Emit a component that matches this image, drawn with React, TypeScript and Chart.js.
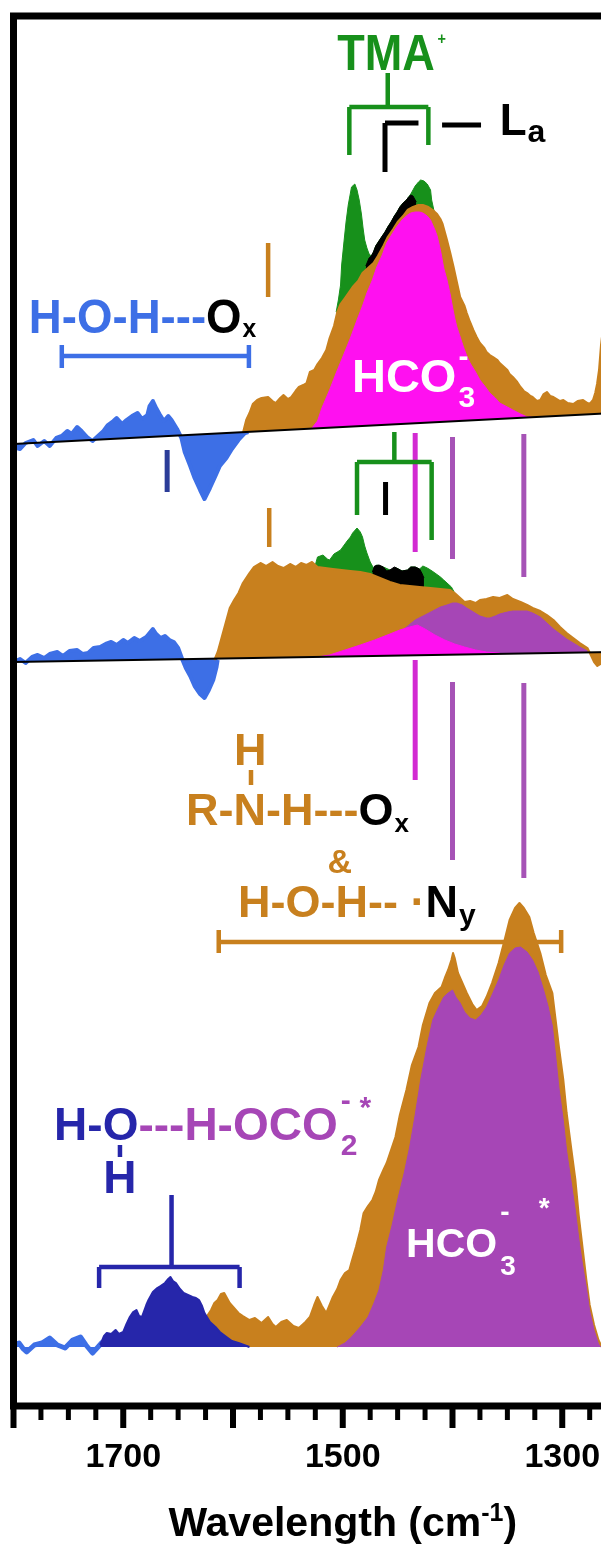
import React, { useEffect, useRef } from 'react';
import { Chart, registerables } from 'chart.js';

Chart.register(...registerables);

type P = [number, number];

// ---------- axis ----------
const xTickLabels = [1700, 1500, 1300];
const xMin = 1200;
const xMax = 1800;

// ---------- baselines ----------
const topBaseline: P[] = [[1800, 962], [1200, 996]];
const midBaseline: P[] = [[1800, 744], [1200, 755]];
const bottomBaselineValue = 59;

// ---------- top spectrum ----------
const topBlue: P[] = [[1800,959],[1794,957],[1789,963],[1782,966],[1778,960],[1772,965],[1767,960],[1761,968],[1756,970],[1751,975],[1747,972],[1742,979],[1738,975],[1733,969],[1728,965],[1723,970],[1718,975],[1714,981],[1709,985],[1706,988],[1701,982],[1697,986],[1692,990],[1687,993],[1683,987],[1678,991],[1676,1000],[1673,1005],[1670,998],[1667,992],[1663,985],[1659,990],[1656,986],[1651,977],[1647,968],[1644,954],[1639,940],[1635,928],[1630,916],[1626,907],[1621,918],[1616,930],[1612,940],[1606,948],[1601,957],[1595,966],[1589,973],[1586,974]];
const topOrange: P[] = [[1591,973],[1588,986],[1585,993],[1582,1002],[1578,1006],[1574,1008],[1568,1009],[1564,1005],[1561,1003],[1557,1008],[1554,1011],[1550,1007],[1547,1009],[1543,1015],[1540,1019],[1536,1021],[1533,1023],[1530,1034],[1526,1036],[1523,1042],[1519,1048],[1515,1056],[1512,1068],[1508,1080],[1505,1094],[1502,1102],[1498,1108],[1491,1119],[1486,1125],[1482,1133],[1477,1138],[1472,1143],[1468,1150],[1463,1160],[1459,1169],[1454,1177],[1450,1184],[1445,1190],[1441,1196],[1436,1199],[1431,1201],[1427,1201],[1422,1199],[1418,1196],[1414,1192],[1411,1187],[1409,1182],[1407,1174],[1405,1166],[1402,1153],[1399,1139],[1396,1124],[1393,1109],[1389,1100],[1387,1093],[1384,1084],[1381,1076],[1378,1069],[1375,1063],[1371,1058],[1369,1054],[1366,1051],[1363,1049],[1359,1046],[1357,1043],[1353,1039],[1350,1036],[1348,1032],[1345,1029],[1341,1024],[1338,1019],[1335,1015],[1332,1013],[1329,1010],[1327,1009],[1323,1005],[1320,1006],[1317,1012],[1314,1014],[1311,1010],[1308,1009],[1305,1007],[1302,1005],[1299,1006],[1295,1003],[1290,1002],[1286,1005],[1281,1006],[1277,1003],[1275,1002],[1272,1006],[1270,1013],[1268.3,1022],[1266.5,1036],[1264.7,1061],[1262,1086],[1258,1106]];
const topMagenta: P[] = [[1528,978],[1523,985],[1519,998],[1512,1016],[1506,1033],[1500,1049],[1493,1068],[1487,1086],[1482,1100],[1478,1113],[1473,1126],[1469,1139],[1464,1151],[1460,1163],[1455,1172],[1451,1179],[1446,1186],[1441,1191],[1438,1193],[1434,1194],[1430,1194],[1427,1193],[1423,1190],[1420,1186],[1418,1181],[1416,1176],[1414,1170],[1411,1156],[1408,1138],[1405,1126],[1402,1111],[1400,1099],[1398,1088],[1396,1079],[1393,1069],[1390,1059],[1387,1050],[1384,1043],[1379,1034],[1375,1026],[1370,1019],[1366,1013],[1361,1008],[1357,1003],[1350,999],[1345,996],[1338,992],[1332,989],[1328,989]];
const topGreen: P[] = [[1506,1094],[1504,1106],[1502,1121],[1501,1141],[1499,1163],[1497,1184],[1495,1201],[1493,1213],[1492,1219],[1489,1222],[1487,1216],[1485,1206],[1483,1192],[1481.5,1178],[1480,1166],[1478,1158],[1476,1152],[1474,1150],[1472,1154],[1470,1160],[1467,1165],[1464,1170],[1461.5,1174],[1459,1179],[1456,1184],[1453,1190],[1450.5,1194],[1448,1199],[1445,1203],[1442,1206],[1440,1209],[1438,1212],[1436,1216],[1434,1220],[1431,1224],[1429,1226],[1426,1225],[1423,1222],[1420,1216],[1419,1206],[1417,1196],[1415,1190]];
const topBlack: P[] = [[1479,1140],[1476,1148],[1474,1150],[1472,1154],[1470,1160],[1467,1165],[1464,1170],[1461.5,1174],[1459,1179],[1456,1184],[1453,1190],[1450.5,1194],[1448,1199],[1445,1203],[1442,1206],[1440,1209],[1438,1211],[1436,1210],[1433,1204]];

// ---------- middle spectrum ----------
const midBlue: P[] = [[1800,744],[1794,747],[1789,743],[1783,749],[1778,751],[1772,748],[1767,752],[1760,754],[1755,750],[1749,755],[1742,756],[1737,752],[1732,753],[1727,758],[1721,759],[1716,762],[1711,764],[1706,761],[1700,766],[1696,763],[1690,768],[1685,765],[1679,769],[1676,773],[1673,777],[1670,772],[1666,768],[1662,770],[1658,766],[1654,764],[1650,758],[1646,746],[1643,738],[1639,730],[1635,720],[1630,712],[1626,708],[1622,716],[1618,726],[1615,739],[1614,746]];
const midOrange: P[] = [[1617,746],[1614,754],[1610,770],[1606,786],[1603,798],[1599,806],[1595,813],[1591,823],[1585,833],[1581,839],[1575,843],[1570,840],[1564,844],[1559,840],[1554,838],[1548,842],[1543,839],[1538,843],[1533,841],[1528,844],[1523,839],[1516,838],[1509,837],[1501,836],[1493,835],[1484,834],[1475,832],[1466,828],[1457,824],[1448,821],[1439,820],[1430,819],[1420,818],[1411,817],[1402,816],[1398,813],[1393,808],[1389,804],[1384,805],[1379,803],[1375,806],[1369,807],[1363,809],[1357,808],[1350,811],[1345,807],[1338,804],[1332,801],[1327,798],[1320,795],[1314,791],[1308,786],[1302,779],[1296,773],[1290,768],[1284,763],[1277,758],[1274,751],[1271,744],[1268,740],[1265,742],[1260,746]];
const midMagenta: P[] = [[1523,749],[1512,751],[1498,756],[1484,761],[1471,766],[1457,772],[1448,776],[1439,779],[1432,781],[1425,777],[1416,771],[1407,766],[1398,762],[1389,759],[1379,756],[1369,754],[1357,753]];
const midPurple: P[] = [[1475,752],[1466,756],[1457,764],[1452,769],[1443,778],[1434,786],[1425,791],[1418,795],[1411,799],[1405,801],[1400,803],[1396,803],[1391,801],[1387,798],[1381,794],[1375,790],[1369,788],[1366,788],[1361,790],[1357,792],[1350,794],[1345,795],[1338,795],[1332,795],[1327,793],[1320,789],[1314,783],[1308,777],[1302,772],[1296,767],[1290,763],[1284,759],[1277,755]];
const midGreen: P[] = [[1525,841],[1523,849],[1518,851],[1514,847],[1512,846],[1508,852],[1505,854],[1502,856],[1500,859],[1496,865],[1493,869],[1491,873],[1487,878],[1484,874],[1482,869],[1480,860],[1478,853],[1475,844],[1472,838],[1469,841],[1463,839],[1457,836],[1451,838],[1446,835],[1441,836],[1438,839],[1434,839],[1430,837],[1427,840],[1423,838],[1420,836],[1416,833],[1411,829],[1408,826],[1405,823],[1401,819],[1398,813]];
const midBlack: P[] = [[1473,834],[1471,840],[1467,841],[1463,839],[1460,835],[1457,836],[1453,839],[1451,838],[1446,835],[1441,836],[1438,839],[1434,839],[1430,837],[1428,833],[1426,828]];

// ---------- bottom spectrum ----------
const botLightBlue: P[] = [[1800,61],[1795,63],[1791,57],[1788,54],[1781,61],[1774,63],[1767,68],[1760,61],[1753,58],[1746,66],[1739,69],[1734,61],[1728,53],[1723,59],[1719,64]];
const botDarkBlue: P[] = [[1721,61],[1717.5,70],[1715,73],[1711,72],[1707,76],[1704,72],[1700,74],[1697,82],[1694,89],[1691,94],[1688,96],[1685.6,90],[1683,89],[1679,101],[1677,106],[1673,114],[1669,118],[1666,120],[1662,123],[1659,127],[1657,129],[1654.7,125],[1652,123],[1648.3,117],[1645,113],[1641,111],[1637,109],[1633.7,108],[1631,106],[1628.2,100],[1626,93],[1621,84],[1616,79],[1612,74],[1606,69],[1601,65],[1595,63],[1590,61],[1585,59]];
const botOrange: P[] = [[1627.3,66],[1626,81],[1623,91],[1620,96],[1617,103],[1614,106],[1611,112],[1608,113],[1605.5,108],[1603,103],[1599,98],[1595,93],[1591,90],[1585,86],[1580,88],[1574,83],[1571,86],[1568,89],[1564,82],[1561,79],[1556,84],[1551,86],[1545,80],[1540,78],[1534,84],[1530,89],[1526,101],[1523,109],[1519,100],[1515,93],[1512,101],[1509,109],[1505,117],[1502,126],[1498,133],[1494,136],[1492,144],[1488,159],[1484,176],[1481,193],[1477,200],[1473,206],[1470,214],[1467,226],[1463,236],[1460,243],[1456,256],[1452,269],[1448,291],[1442,316],[1437,341],[1431,359],[1427,381],[1421,403],[1416,413],[1410,419],[1407,428],[1404,436],[1401,446],[1399.5,453],[1398,448],[1395,433],[1391,423],[1387,413],[1382,402],[1378,396],[1373,400],[1369,409],[1364,423],[1358,443],[1353,464],[1348,486],[1343,498],[1339,503],[1335,498],[1330,489],[1326,473],[1320,453],[1315,431],[1309,413],[1306,386],[1303,359],[1299,326],[1296,293],[1292,259],[1288,226],[1285,191],[1278,126],[1275,101],[1271,81],[1267,66],[1264,59]];
const botPurple: P[] = [[1505,59],[1498,63],[1492,69],[1484,79],[1477,89],[1471.5,103],[1467,116],[1463,136],[1460,159],[1455,181],[1450,206],[1444,233],[1439,259],[1434,291],[1429,326],[1423,361],[1418,386],[1413,398],[1408,409],[1404,413],[1400,416],[1397,409],[1393,403],[1389,394],[1384,388],[1379,386],[1374,391],[1369,399],[1364,411],[1358,426],[1353,441],[1348,453],[1343,458],[1338,459],[1332,454],[1327,446],[1322,434],[1317,416],[1313,400],[1309,380],[1306,350],[1303,318],[1299,285],[1296,255],[1292,225],[1288,195],[1285,168],[1282,145],[1278,118],[1275,95],[1271,76],[1267,62],[1265,59]];

// ---------- annotation marks: [wn1, v1, wn2, v2] ----------
type Seg = [number, number, number, number];
const magentaMarks: Seg[] = [[1434,973,1434,854],[1434,746,1434,626]];
const purpleMarks: Seg[] = [[1400,969,1400,847],[1400,724,1400,546],[1335,972,1335,829],[1335,723,1335,528]];
const greenMarks: Seg[] = [
  [1459,1333,1459,1299],[1494,1299,1422,1299],[1494,1299,1494,1251],[1422,1299,1422,1261],
  [1453,974,1453,944],[1487,944,1419,944],[1487,944,1487,891],[1419,944,1419,866],
];
const blackMarks: Seg[] = [[1461.5,1283,1431,1283],[1461.5,1283,1461.5,1234],[1409.5,1281,1374,1281],[1461,924,1461,891]];
const orangeMarks: Seg[] = [
  [1568,1163,1568,1109],[1567,898,1567,859],[1583.6,636,1583.6,621],
  [1613,464,1301,464],[1613,476,1613,453],[1301,476,1301,453],
];
const blueMarks: Seg[] = [[1756,1050,1585.5,1050],[1756,1061,1756,1038],[1585.5,1061,1585.5,1038]];
const navyMarks: Seg[] = [[1660,956,1660,914]];
const darkBlueMarks: Seg[] = [[1656,211,1656,139],[1722,139,1594,139],[1722,139,1722,118],[1594,139,1594,118],[1703,261,1703,249]];

// ---------- text labels ----------
type Run = { t: string; c: string; s: number; dy?: number; dx?: number; na?: boolean };
type Label = { wn: number; v: number; sx?: number; runs: Run[] };
const labels: Label[] = [
  { wn: 1505, v: 1336, sx: 0.9, runs: [{ t: 'TMA', c: 'green', s: 50 }, { t: '+', c: 'green', s: 16, dy: -26, dx: 3 }] },
  { wn: 1357, v: 1271, runs: [{ t: 'L', c: 'black', s: 44 }, { t: 'a', c: 'black', s: 32, dy: 7, dx: 1 }] },
  { wn: 1786, v: 1073, sx: 0.95, runs: [{ t: 'H-O-H---', c: 'blue', s: 48 }, { t: 'O', c: 'black', s: 48 }, { t: 'x', c: 'black', s: 26, dy: 4, dx: 1 }] },
  { wn: 1491.6, v: 1014, runs: [{ t: 'HCO', c: 'white', s: 47 }, { t: '-', c: 'white', s: 30, dy: -26, dx: 2, na: true }, { t: '3', c: 'white', s: 30, dy: 15 }] },
  { wn: 1599, v: 641, runs: [{ t: 'H', c: 'orange', s: 45 }] },
  { wn: 1642.8, v: 581, runs: [{ t: 'R-N-H---', c: 'orange', s: 45 }, { t: 'O', c: 'black', s: 45 }, { t: 'x', c: 'black', s: 26, dy: 7, dx: 1 }] },
  { wn: 1514, v: 533, runs: [{ t: '&', c: 'orange', s: 34 }] },
  { wn: 1595.4, v: 489, runs: [{ t: 'H-O-H-- ·', c: 'orange', s: 45 }, { t: 'N', c: 'black', s: 45 }, { t: 'y', c: 'black', s: 30, dy: 8, dx: 1 }] },
  { wn: 1763, v: 266, runs: [{ t: 'H-O', c: 'dkblue', s: 46 }, { t: '---H-OCO', c: 'purple', s: 46 }, { t: '-', c: 'purple', s: 30, dy: -30, dx: 3, na: true }, { t: '2', c: 'purple', s: 30, dy: 15 }, { t: '*', c: 'purple', s: 30, dy: -23, dx: 2 }] },
  { wn: 1718.2, v: 213, runs: [{ t: 'H', c: 'dkblue', s: 46 }] },
  { wn: 1442.3, v: 149, runs: [{ t: 'HCO', c: 'white', s: 41 }, { t: '-', c: 'white', s: 28, dy: -36, dx: 3, na: true }, { t: '3', c: 'white', s: 28, dy: 18 }, { t: '*', c: 'white', s: 28, dy: -40, dx: 23 }] },
];

const COLORS: Record<string, string> = {
  blue: '#3d6fe6',
  orange: '#c8801e',
  magenta: '#ff10f0',
  purple: '#a646b6',
  green: '#17901b',
  dkblue: '#2626aa',
  navy: '#2b3c98',
  magentaLine: '#d22ad2',
  purpleLine: '#a653b6',
  black: '#000000',
  white: '#ffffff',
};
const FONT = '"Liberation Sans", Arial, Helvetica, sans-serif';

const xy = (a: P[]) => a.map(([x, y]) => ({ x, y }));

function area(data: P[], color: string, fill: any, order: number, bw = 1) {
  return {
    data: xy(data),
    backgroundColor: color,
    borderColor: color,
    borderWidth: bw,
    borderJoinStyle: 'round',
    pointRadius: 0,
    tension: 0,
    fill,
    order,
  };
}

const overlayPlugin = {
  id: 'overlay',
  afterDraw(chart: any) {
    const { ctx, chartArea: ca, scales } = chart;
    const X = (w: number) => scales.x.getPixelForValue(w);
    const Y = (v: number) => scales.y.getPixelForValue(v);
    ctx.save();
    ctx.lineCap = 'butt';
    const drawSegs = (segs: Seg[], color: string, lw: number) => {
      ctx.strokeStyle = color;
      ctx.lineWidth = lw;
      for (const [w1, v1, w2, v2] of segs) {
        ctx.beginPath();
        ctx.moveTo(X(w1), Y(v1));
        ctx.lineTo(X(w2), Y(v2));
        ctx.stroke();
      }
    };
    drawSegs(magentaMarks, COLORS.magentaLine, 5);
    drawSegs(purpleMarks, COLORS.purpleLine, 5);
    drawSegs(greenMarks, COLORS.green, 4.5);
    drawSegs(blackMarks, COLORS.black, 5);
    drawSegs(orangeMarks, COLORS.orange, 4.5);
    drawSegs(blueMarks, COLORS.blue, 4.5);
    drawSegs(navyMarks, COLORS.navy, 5);
    drawSegs(darkBlueMarks, COLORS.dkblue, 4.5);

    ctx.textBaseline = 'alphabetic';
    ctx.textAlign = 'left';
    for (const lab of labels) {
      let x = X(lab.wn);
      const y0 = Y(lab.v);
      const sx = lab.sx ?? 1;
      for (const r of lab.runs) {
        ctx.font = `bold ${r.s}px ${FONT}`;
        x += (r.dx ?? 0) * sx;
        ctx.fillStyle = COLORS[r.c];
        ctx.save();
        ctx.translate(x, y0 + (r.dy ?? 0));
        ctx.scale(sx, 1);
        ctx.fillText(r.t, 0, 0);
        ctx.restore();
        if (!r.na) x += ctx.measureText(r.t).width * sx;
      }
    }

    // frame
    ctx.strokeStyle = '#000';
    ctx.lineWidth = 7;
    ctx.strokeRect(ca.left, ca.top, ca.right - ca.left, ca.bottom - ca.top);

    // tick marks
    for (let w = xMax; w >= xMin; w -= 25) {
      const major = w % 100 === 0;
      const px = X(w);
      ctx.lineWidth = major ? 6 : 5;
      ctx.beginPath();
      ctx.moveTo(px, ca.bottom + 3);
      ctx.lineTo(px, ca.bottom + (major ? 22 : 14));
      ctx.stroke();
    }

    // axis title
    ctx.fillStyle = '#000';
    const big = `bold 41px ${FONT}`;
    const small = `bold 25px ${FONT}`;
    ctx.font = big;
    const w1 = ctx.measureText('Wavelength (cm').width;
    const w3 = ctx.measureText(')').width;
    ctx.font = small;
    const w2 = ctx.measureText('-1').width;
    const total = w1 + w2 + w3;
    let tx = (ca.left + ca.right) / 2 - total / 2;
    const ty = ca.bottom + 130;
    ctx.font = big;
    ctx.fillText('Wavelength (cm', tx, ty);
    tx += w1;
    ctx.font = small;
    ctx.fillText('-1', tx, ty - 15);
    tx += w2;
    ctx.font = big;
    ctx.fillText(')', tx, ty);
    ctx.restore();
  },
};

export default function App() {
  const ref = useRef<HTMLCanvasElement>(null);
  useEffect(() => {
    const canvas = ref.current;
    if (!canvas) return;
    const chart = new Chart(canvas, {
      type: 'line',
      data: {
        datasets: [
          { data: xy(topBaseline), borderColor: '#000', borderWidth: 2, pointRadius: 0, fill: false, order: 0 },
          { data: xy(midBaseline), borderColor: '#000', borderWidth: 2, pointRadius: 0, fill: false, order: 0 },
          area(topMagenta, COLORS.magenta, { target: 0 }, 1),
          area(topOrange, COLORS.orange, { target: 0 }, 2, 2),
          area(topBlack, COLORS.black, { target: 0 }, 3),
          area(topGreen, COLORS.green, { target: 0 }, 4),
          area(topBlue, COLORS.blue, { target: 0 }, 5, 4),
          area(midMagenta, COLORS.magenta, { target: 1 }, 1),
          area(midPurple, COLORS.purple, { target: 1 }, 2),
          area(midOrange, COLORS.orange, { target: 1 }, 3, 2),
          area(midBlack, COLORS.black, { target: 1 }, 4),
          area(midGreen, COLORS.green, { target: 1 }, 5),
          area(midBlue, COLORS.blue, { target: 1 }, 6, 4),
          area(botDarkBlue, COLORS.dkblue, { value: bottomBaselineValue }, 1, 2),
          area(botPurple, COLORS.purple, { value: bottomBaselineValue }, 2),
          area(botOrange, COLORS.orange, { value: bottomBaselineValue }, 3, 2),
          area(botLightBlue, COLORS.blue, { value: bottomBaselineValue }, 4, 5),
        ] as any,
      },
      options: {
        responsive: false,
        animation: false,
        devicePixelRatio: 1,
        events: [],
        layout: { padding: { left: 13.5, top: 16, right: 18, bottom: 63 } },
        plugins: { legend: { display: false }, tooltip: { enabled: false } },
        scales: {
          x: {
            type: 'linear',
            min: xMin,
            max: xMax,
            reverse: true,
            grid: { display: false, drawTicks: false },
            border: { display: false },
            afterBuildTicks: (axis: any) => {
              axis.ticks = xTickLabels.map((value) => ({ value }));
            },
            afterFit: (axis: any) => {
              axis.height = 80;
            },
            ticks: {
              padding: 31,
              color: '#000',
              maxRotation: 0,
              autoSkip: false,
              font: { family: FONT, size: 34, weight: 'bold' },
              callback: (v: any) => String(v),
            },
          },
          y: { display: false, min: 0, max: 1390 },
        },
      } as any,
      plugins: [overlayPlugin],
    });
    return () => chart.destroy();
  }, []);
  return (
    <div style={{ position: 'fixed', left: 0, top: 0, width: 601, height: 1549, overflow: 'hidden', background: '#fff' }}>
      <canvas ref={ref} width={690} height={1549} style={{ display: 'block', width: 690, height: 1549 }} />
    </div>
  );
}
